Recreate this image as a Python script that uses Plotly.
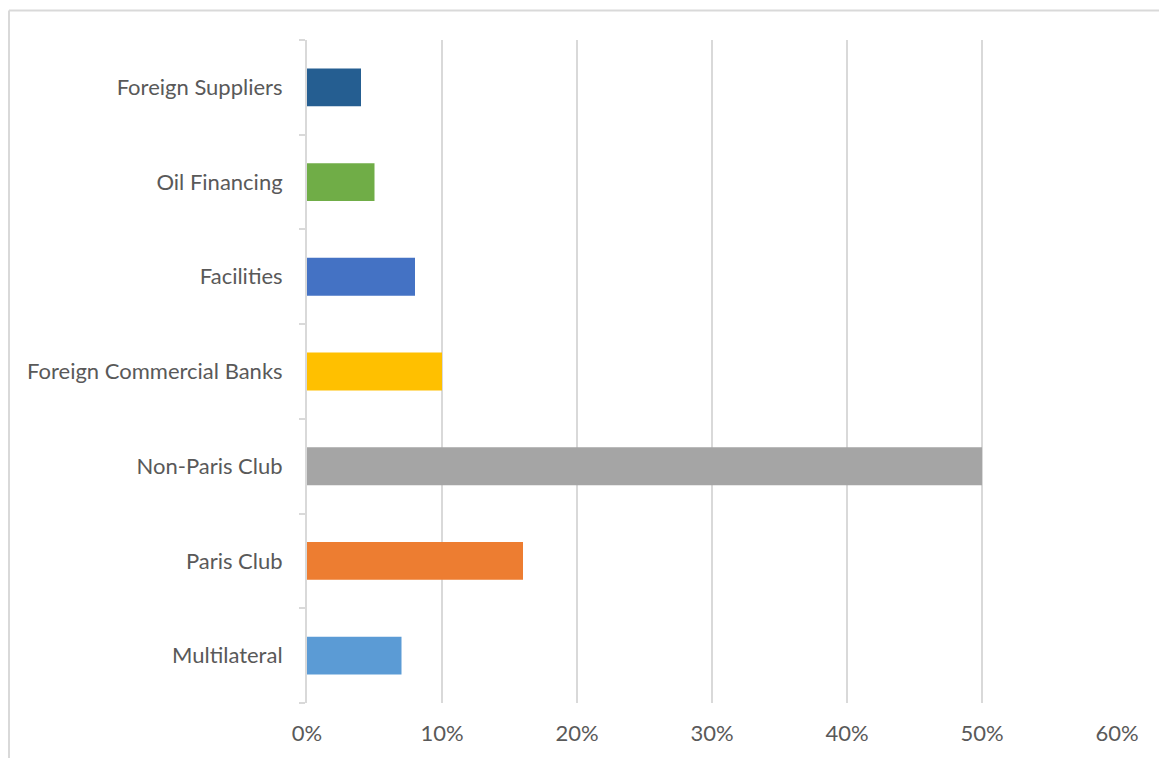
import plotly.graph_objects as go

# Debt composition by creditor (share of total)
categories = [
    "Multilateral",
    "Paris Club",
    "Non-Paris Club",
    "Foreign Commercial Banks",
    "Facilities",
    "Oil Financing",
    "Foreign Suppliers",
]
shares = [0.07, 0.16, 0.50, 0.10, 0.08, 0.05, 0.04]
bar_colors = ["#5b9bd5", "#ed7d31", "#a5a5a5", "#ffc000", "#4472c4", "#70ad47", "#255e91"]

FONT = "Lato"
TEXT = "#595959"
GRID = "#d9d9d9"

fig = go.Figure(
    go.Bar(
        x=shares,
        y=categories,
        orientation="h",
        marker=dict(color=bar_colors, line=dict(width=0)),
        width=0.4,
        hoverinfo="x+y",
    )
)

W, H = 1159, 758
L, R, T, B = 307, 42, 40, 44
pw, ph = W - L - R, H - T - B


def px_x(p):
    return (p - L) / pw


def px_y(p):
    return (H - B - p) / ph


fig.update_layout(
    width=W,
    height=H,
    margin=dict(l=L, r=R, t=T, b=B, pad=0),
    paper_bgcolor="white",
    plot_bgcolor="white",
    showlegend=False,
    font=dict(family=FONT, size=22, color=TEXT),
    xaxis=dict(
        range=[0, 0.6],
        dtick=0.1,
        tick0=0,
        tickformat=".0%",
        showgrid=True,
        gridcolor=GRID,
        gridwidth=2,
        zeroline=False,
        showline=False,
        ticks="",
        ticklabelstandoff=15,
        fixedrange=True,
    ),
    yaxis=dict(
        categoryorder="array",
        categoryarray=categories,
        showline=True,
        linecolor=GRID,
        linewidth=2,
        ticks="outside",
        tickson="boundaries",
        ticklen=6,
        tickwidth=2,
        tickcolor=GRID,
        showgrid=False,
        ticklabelstandoff=18,
        fixedrange=True,
    ),
    shapes=[
        # chart frame (left and top edges)
        dict(type="line", xref="paper", yref="paper",
             x0=px_x(9), x1=px_x(9), y0=px_y(10), y1=px_y(H + 20),
             line=dict(color=GRID, width=2)),
        dict(type="line", xref="paper", yref="paper",
             x0=px_x(9), x1=px_x(W + 20), y0=px_y(10), y1=px_y(10),
             line=dict(color=GRID, width=2)),
    ],
)

fig.write_html("out.html")
